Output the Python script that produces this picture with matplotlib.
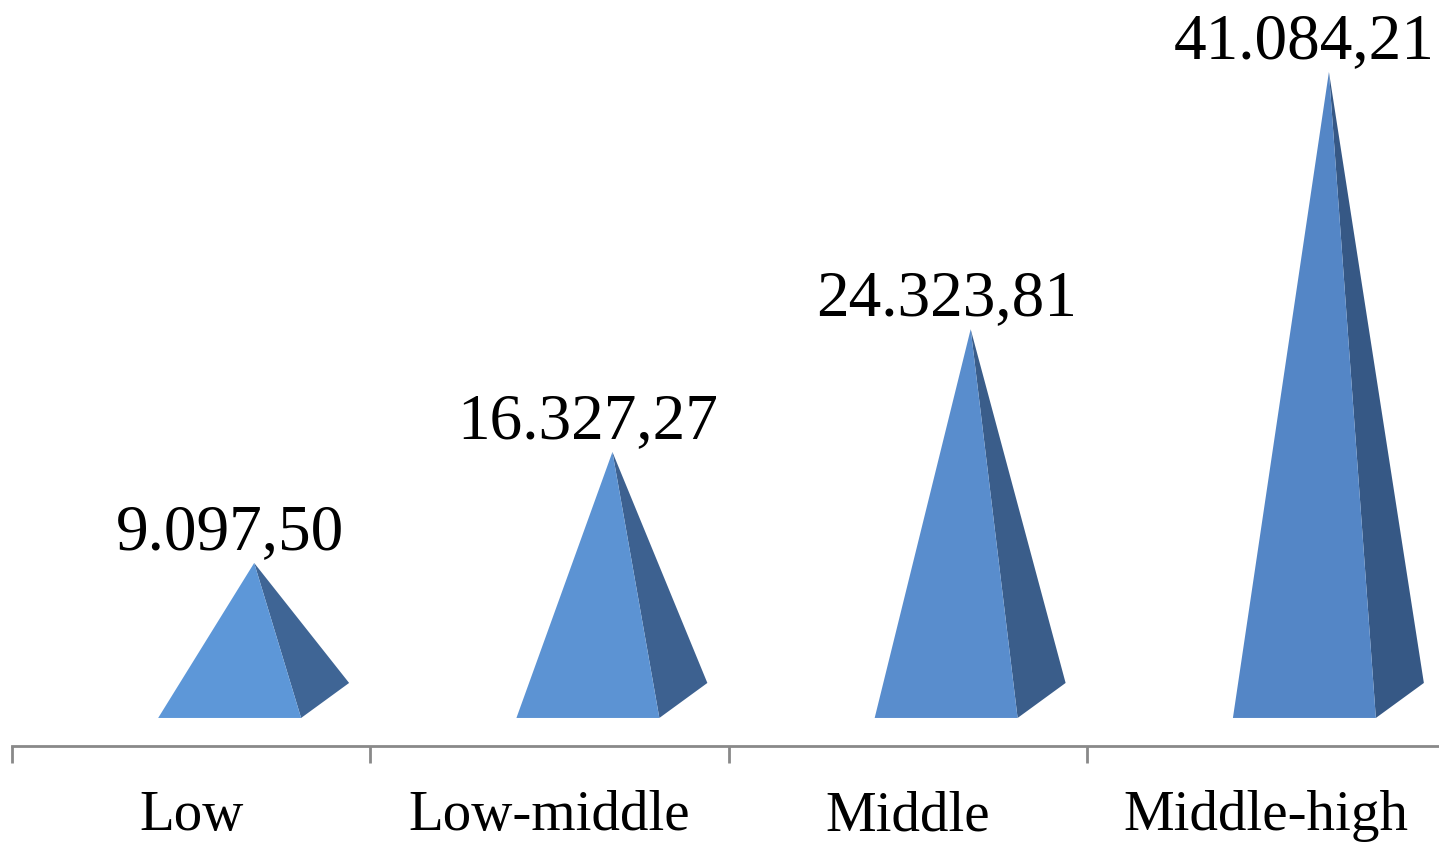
import matplotlib.pyplot as plt
from matplotlib.patches import Polygon

categories = ["Low", "Low-middle", "Middle", "Middle-high"]
values = [9097.50, 16327.27, 24323.81, 41084.21]

front_colors = ["#5d97d8", "#5c93d3", "#598dcd", "#5486c6"]
side_colors = ["#3f6595", "#3d6190", "#3a5d8a", "#365885"]

# pyramid shape, in category units (x) and value units (y)
FRONT_LEFT, FRONT_RIGHT, BACK_RIGHT, APEX_X = -0.092, 0.307, 0.441, 0.176
FRONT_Y, BACK_Y = -1000, 1280


def euro_format(v):
    s = f"{v:,.2f}"
    return s.replace(",", "X").replace(".", ",").replace("X", ".")


plt.rcParams["font.family"] = ["Liberation Serif", "DejaVu Serif"]

fig = plt.figure(figsize=(14.39, 8.49), dpi=100)
ax = fig.add_axes([12 / 1439, 103 / 849, 1433 / 1439, 746 / 849])
ax.set_xlim(-0.5, len(categories) - 0.5)
ax.set_ylim(-2827, 45772)

for i, (v, fc, sc) in enumerate(zip(values, front_colors, side_colors)):
    apex = (i + APEX_X, v)
    front = [(i + FRONT_LEFT, FRONT_Y), (i + FRONT_RIGHT, FRONT_Y), apex]
    side = [(i + FRONT_RIGHT, FRONT_Y), (i + BACK_RIGHT, BACK_Y), apex]
    ax.add_patch(Polygon(side, closed=True, facecolor=sc, edgecolor="none"))
    ax.add_patch(Polygon(front, closed=True, facecolor=fc, edgecolor="none"))
    ax.annotate(euro_format(v), xy=(i + (FRONT_LEFT + FRONT_RIGHT) / 2, v),
                xytext=(0, 10), textcoords="offset points",
                ha="center", va="baseline", fontsize=47, color="black")

for side in ["top", "left", "right"]:
    ax.spines[side].set_visible(False)
ax.spines["bottom"].set_color("#898989")
ax.spines["bottom"].set_linewidth(2)

ax.set_yticks([])
ax.set_xticks(range(len(categories)))
ax.set_xticklabels(categories, fontsize=41)
ax.tick_params(axis="x", which="major", length=0, pad=32)
ax.set_xticks([k - 0.5 for k in range(len(categories) + 1)], minor=True)
ax.tick_params(axis="x", which="minor", length=12, width=2, color="#898989")

fig.savefig("out.png", dpi=100)
